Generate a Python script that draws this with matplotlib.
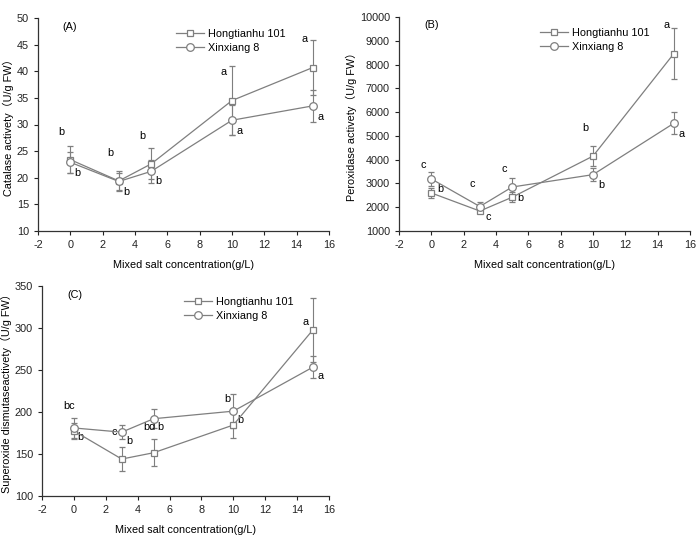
import matplotlib
matplotlib.use("Agg")
import matplotlib.pyplot as plt
from matplotlib.lines import Line2D

plt.rcParams['font.family'] = ['Liberation Sans', 'DejaVu Sans']
plt.rcParams['axes.unicode_minus'] = False

x = [0, 3, 5, 10, 15]
series_names = ["Hongtianhu 101", "Xinxiang 8"]

# Panel A: Catalase
cat_h = [23.4, 19.4, 22.6, 34.5, 40.7]
cat_h_err = [2.6, 1.9, 2.9, 6.5, 5.2]
cat_x = [22.9, 19.3, 21.2, 30.8, 33.5]
cat_x_err = [2.0, 1.6, 2.1, 2.8, 3.0]
cat_letters = [("b", -0.55, 28.5), ("b", 0.45, 20.8), ("b", 2.5, 24.6), ("b", 3.45, 17.4),
               ("b", 4.45, 27.9), ("b", 5.45, 19.3), ("a", 9.5, 39.8), ("a", 10.45, 28.8),
               ("a", 14.5, 46.1), ("a", 15.5, 31.5)]

# Panel B: Peroxidase
pod_h = [2600, 1840, 2420, 4150, 8460]
pod_h_err = [200, 100, 220, 420, 1080]
pod_x = [3190, 2030, 2850, 3370, 5530]
pod_x_err = [290, 200, 400, 260, 470]
pod_letters = [("c", -0.5, 3770), ("b", 0.55, 2760), ("c", 2.55, 2970), ("c", 3.5, 1600),
               ("c", 4.5, 3590), ("b", 5.5, 2400), ("b", 9.5, 5340), ("b", 10.5, 2930),
               ("a", 14.55, 9650), ("a", 15.5, 5070)]

# Panel C: Superoxide dismutase
sod_h = [177.5, 144.0, 151.5, 184.5, 298.0]
sod_h_err = [10, 14, 16, 15, 38]
sod_x = [181.0, 176.0, 192.0, 201.0, 253.5]
sod_x_err = [12, 8, 11, 20, 13]
sod_letters = [("bc", -0.3, 207), ("b", 0.4, 170.5), ("c", 2.55, 176), ("b", 3.45, 166),
               ("bd", 4.75, 182), ("b", 5.45, 181.6), ("b", 9.6, 215), ("b", 10.45, 190),
               ("a", 14.55, 307), ("a", 15.5, 242.6)]

W, H = 698, 542
fig = plt.figure(figsize=(W / 100, H / 100), dpi=100)

GRAY = "#7f7f7f"
FS = 7.8


def make_panel(rect, yh, yhe, yx, yxe, ylim, yticks, ylabel, tag, tagpos, letters, legpos):
    ax = fig.add_axes(rect)
    ax.errorbar(x, yh, yerr=yhe, color=GRAY, lw=0.9, marker='s', ms=4.5, mfc='white',
                mec=GRAY, mew=0.9, capsize=2.5, elinewidth=0.8, capthick=0.8, zorder=3)
    ax.errorbar(x, yx, yerr=yxe, color=GRAY, lw=0.9, marker='o', ms=5.5, mfc='white',
                mec=GRAY, mew=0.9, capsize=2.5, elinewidth=0.8, capthick=0.8, zorder=3)
    ax.set_xlim(-2, 16)
    ax.set_xticks(range(-2, 17, 2))
    ax.set_ylim(*ylim)
    ax.set_yticks(yticks)
    for s in ['top', 'right']:
        ax.spines[s].set_visible(False)
    for s in ['left', 'bottom']:
        ax.spines[s].set_color('#333333')
        ax.spines[s].set_linewidth(0.9)
    ax.tick_params(direction='out', length=3, width=0.8, labelsize=FS, colors='#222222')
    ax.set_xlabel("Mixed salt concentration(g/L)", fontsize=FS, labelpad=7)
    ax.set_ylabel(ylabel, fontsize=FS, labelpad=2,
                  fontfamily=['Liberation Sans', 'Noto Sans CJK SC', 'DejaVu Sans'])
    ax.text(tagpos[0], tagpos[1], tag, fontsize=FS, ha='left', va='center')
    for t, lx, ly in letters:
        ax.text(lx, ly, t, fontsize=FS, ha='center', va='center')
    handles = [Line2D([], [], color=GRAY, lw=0.9, marker='s', ms=4.5, mfc='white', mec=GRAY, mew=0.9),
               Line2D([], [], color=GRAY, lw=0.9, marker='o', ms=5.5, mfc='white', mec=GRAY, mew=0.9)]
    ax.legend(handles, series_names, loc='upper left', bbox_to_anchor=legpos, frameon=False,
              fontsize=FS, handlelength=2.6, handletextpad=0.3, labelspacing=0.4,
              borderaxespad=0)
    return ax


make_panel([38 / W, 1 - 231 / H, 291 / W, 213 / H], cat_h, cat_h_err, cat_x, cat_x_err,
           (10, 50), range(10, 51, 5), "Catalase activety\uff08U/g FW\uff09", "(A)", (-0.5, 48.3),
           cat_letters, (0.46, 0.97))
make_panel([399 / W, 1 - 231 / H, 291 / W, 214 / H], pod_h, pod_h_err, pod_x, pod_x_err,
           (1000, 10000), range(1000, 10001, 1000), "Peroxidase activety\uff08U/g FW\uff09", "(B)",
           (-0.4, 9650), pod_letters, (0.47, 0.97))
make_panel([42 / W, 1 - 496 / H, 287 / W, 210 / H], sod_h, sod_h_err, sod_x, sod_x_err,
           (100, 350), range(100, 351, 50), "Superoxide dismutaseactivety\uff08U/g FW\uff09", "(C)",
           (-0.4, 339), sod_letters, (0.48, 0.97))

fig.savefig("out.png", dpi=100, facecolor='white')
